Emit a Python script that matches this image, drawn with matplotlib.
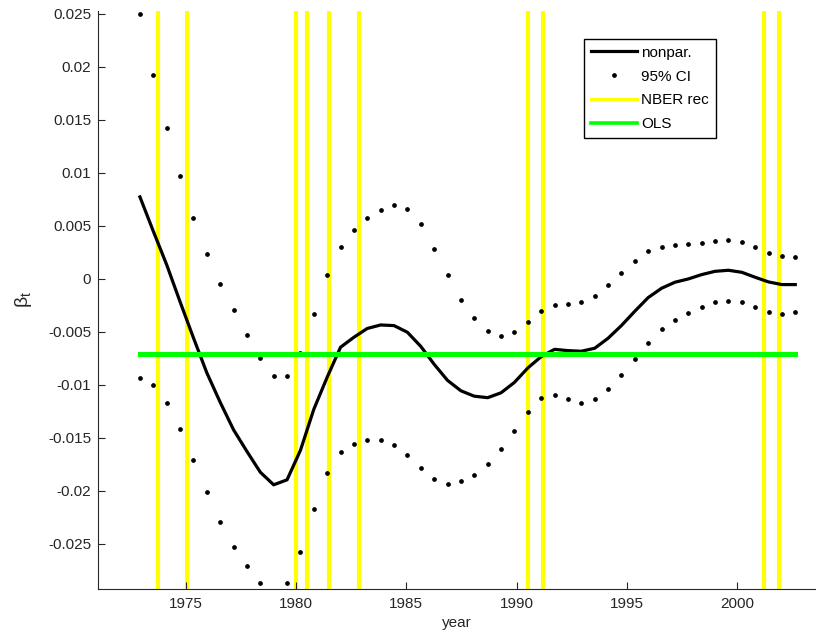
import numpy as np
import matplotlib
matplotlib.use("Agg")
import matplotlib.pyplot as plt
from matplotlib.lines import Line2D

plt.rcParams['font.family'] = ['Liberation Sans', 'DejaVu Sans']
plt.rcParams['axes.unicode_minus'] = False
plt.rcParams['mathtext.fontset'] = 'custom'
plt.rcParams['mathtext.rm'] = 'Liberation Sans'
plt.rcParams['mathtext.it'] = 'Liberation Sans'

# time grid of the kernel estimate (50 evaluation points)
years = np.linspace(1972.93, 2002.62, 50)

beta_np = [0.00774, 0.0045, 0.00134, -0.00215, -0.00555, -0.00885, -0.01163, -0.01423, -0.01627, -0.01823,
           -0.01942, -0.01895, -0.01617, -0.0123, -0.00927, -0.00644, -0.0055, -0.00467, -0.00434, -0.0044,
           -0.00503, -0.00636, -0.00805, -0.00957, -0.01055, -0.01106, -0.0112, -0.01074, -0.00976, -0.0084,
           -0.00733, -0.00664, -0.00676, -0.00682, -0.00654, -0.0056, -0.0044, -0.00305, -0.00176, -0.00088,
           -0.00031, 0.0, 0.00041, 0.00072, 0.00082, 0.00063, 0.00016, -0.00028, -0.00053, -0.00053]

ci_upper = [0.0250, 0.01925, 0.0142, 0.00973, 0.00576, 0.00237, -0.00048, -0.00294, -0.00525, -0.00748,
            -0.00914, -0.00914, -0.00694, -0.00326, 0.00035, 0.00298, 0.00464, 0.00572, 0.00655, 0.00695,
            0.00659, 0.00514, 0.00287, 0.00033, -0.00194, -0.00368, -0.00488, -0.0054, -0.00505, -0.00409,
            -0.00302, -0.00248, -0.00234, -0.00219, -0.0016, -0.00058, 0.00058, 0.00172, 0.00261, 0.00306,
            0.00321, 0.00327, 0.00343, 0.00362, 0.00368, 0.00346, 0.00305, 0.00248, 0.00217, 0.00205]

ci_lower = [-0.00939, -0.00997, -0.01167, -0.01412, -0.01704, -0.02011, -0.02289, -0.02527, -0.02712, -0.02867,
            -0.0296, -0.02872, -0.02574, -0.02166, -0.0183, -0.01636, -0.01553, -0.0152, -0.01524, -0.01571,
            -0.01661, -0.0178, -0.01885, -0.01932, -0.0191, -0.01845, -0.01744, -0.01607, -0.01437, -0.01259,
            -0.01126, -0.01091, -0.01132, -0.01167, -0.01135, -0.01038, -0.00903, -0.00752, -0.00604, -0.00475,
            -0.00384, -0.00318, -0.00261, -0.0022, -0.00205, -0.0022, -0.00267, -0.00314, -0.0033, -0.00311]

beta_ols = -0.00708

# NBER peaks and troughs
nber_dates = [1973.75, 1975.08, 1980.0, 1980.5, 1981.5, 1982.86, 1990.5, 1991.17, 2001.19, 2001.87]

fig = plt.figure(figsize=(8.16, 6.37), dpi=100)
ax = fig.add_axes([98 / 816, 48 / 637, 718 / 816, 578 / 637])

for d in nber_dates:
    ax.axvline(d, color='#ffff00', lw=3.0, zorder=1)
ax.plot(years, beta_np, color='black', lw=2.3, zorder=3)
ax.plot(years, ci_upper, 'o', color='black', ms=2.4, zorder=3)
ax.plot(years, ci_lower, 'o', color='black', ms=2.4, zorder=3)
ax.plot([years[0], years[-1]], [beta_ols, beta_ols], color='#00ff00', lw=3.6, zorder=4)

ax.set_xlim(1971.03, 2003.56)
ax.set_ylim(-0.02925, 0.02528)
ax.set_xticks([1975, 1980, 1985, 1990, 1995, 2000])
yt = [-0.025, -0.02, -0.015, -0.01, -0.005, 0, 0.005, 0.01, 0.015, 0.02, 0.025]
ax.set_yticks(yt)
ax.set_yticklabels(['%g' % v for v in yt])

for s in ['top', 'right']:
    ax.spines[s].set_visible(False)
for s in ['left', 'bottom']:
    ax.spines[s].set_color('#262626')
    ax.spines[s].set_linewidth(0.8)
ax.tick_params(direction='in', length=5, width=0.8, color='#262626', labelsize=11, labelcolor='#262626')
ax.tick_params(axis='x', pad=6)
ax.tick_params(axis='y', pad=5)

ax.set_xlabel('year', fontsize=11, color='#262626', labelpad=3)
ax.set_ylabel(r'$\beta_t$', fontsize=14, color='#262626', labelpad=10)

handles = [Line2D([], [], color='black', lw=2.3),
           Line2D([], [], ls='none', marker='o', color='black', ms=2.4),
           Line2D([], [], color='#ffff00', lw=2.2),
           Line2D([], [], color='#00ff00', lw=2.6)]
leg = ax.legend(handles, ['nonpar.', '95% CI', 'NBER rec', 'OLS'], loc='upper left',
                bbox_to_anchor=(0.677, 0.952), fontsize=11, frameon=True, fancybox=False,
                framealpha=1, edgecolor='black', handlelength=3.0, handletextpad=0.3,
                labelspacing=0.65, borderpad=0.45, borderaxespad=0)
leg.get_frame().set_linewidth(1.0)

fig.savefig('out.png', dpi=100)
